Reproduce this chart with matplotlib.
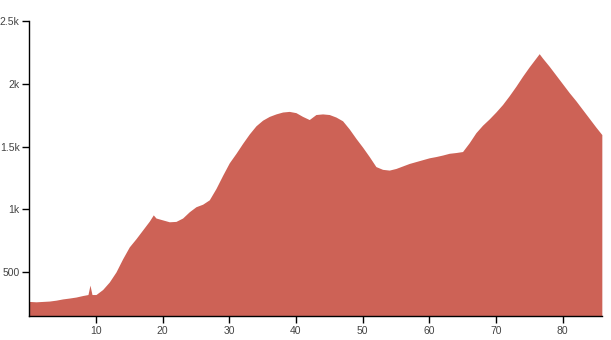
"""Elevation profile chart."""

import matplotlib
matplotlib.use("Agg")
import matplotlib.pyplot as plt
from matplotlib.ticker import FixedLocator, FuncFormatter

# distance (km) and elevation (m)
distance_km = [
    0, 1, 2, 3, 4, 5, 6, 7, 8, 8.8, 9.1, 9.4, 10, 11, 12, 13, 14, 15, 16, 17,
    18, 18.6, 19, 20, 21, 22, 23, 24, 25, 26, 27, 28, 29, 30, 31, 32, 33, 34,
    35, 36, 37, 38, 39, 40, 41, 42, 43, 44, 45, 46, 47, 48, 49, 50, 51, 52,
    53, 54, 55, 56, 57, 58, 59, 60, 61, 62, 63, 64, 65, 66, 67, 68, 69, 70,
    71, 72, 73, 74, 75, 76, 76.5, 77, 78, 79, 80, 81, 82, 83, 84, 85, 85.9,
]
elevation_m = [
    265, 262, 265, 268, 275, 285, 292, 300, 312, 320, 395, 320, 320, 360, 420,
    500, 605, 700, 765, 835, 905, 955, 930, 915, 900, 903, 930, 980, 1020,
    1040, 1075, 1165, 1270, 1370, 1445, 1525, 1600, 1665, 1710, 1740, 1760,
    1775, 1780, 1770, 1740, 1715, 1755, 1760, 1755, 1735, 1705, 1640, 1565,
    1495, 1420, 1340, 1318, 1312, 1325, 1345, 1365, 1380, 1395, 1410, 1420,
    1432, 1446, 1452, 1460, 1530, 1610, 1670, 1720, 1775, 1835, 1905, 1980,
    2060, 2135, 2205, 2240, 2205, 2140, 2070, 2000, 1930, 1865, 1795, 1725,
    1655, 1595,
]

x_ticks = [10, 20, 30, 40, 50, 60, 70, 80]
y_ticks = [500, 1000, 1500, 2000, 2500]

FILL = "#cd6256"

plt.rcParams["font.family"] = ["Liberation Sans", "DejaVu Sans"]

fig = plt.figure(figsize=(6.11, 3.4), dpi=100)
ax = fig.add_axes([0.048, 0.071, 0.937, 0.867])

ax.fill_between(distance_km, elevation_m, 0, color=FILL, linewidth=0)

ax.set_xlim(0, 85.9)
ax.set_ylim(150, 2500)
ax.xaxis.set_major_locator(FixedLocator(x_ticks))
ax.yaxis.set_major_locator(FixedLocator(y_ticks))
ax.yaxis.set_major_formatter(
    FuncFormatter(lambda v, _: f"{v / 1000:g}k" if v >= 1000 else f"{v:g}")
)

for side in ("top", "right"):
    ax.spines[side].set_visible(False)
for side in ("left", "bottom"):
    ax.spines[side].set_color("black")
    ax.spines[side].set_linewidth(1)

ax.tick_params(axis="both", length=5, width=1, labelsize=7.5,
               labelcolor="#444444", pad=2)

fig.savefig("out.png", dpi=100)
